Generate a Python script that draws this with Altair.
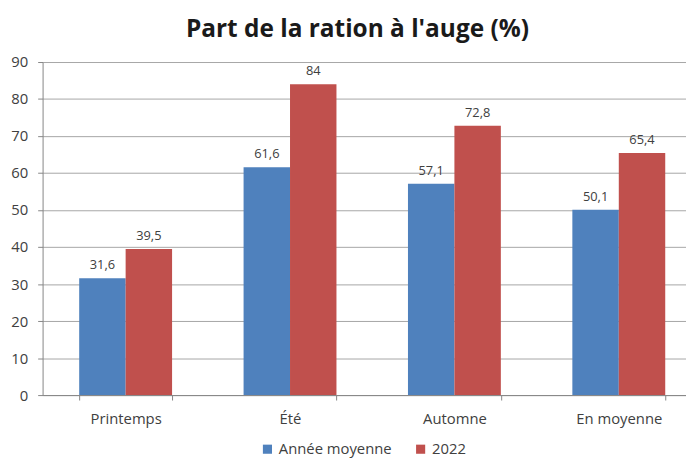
import altair as alt
import pandas as pd

categories = ["Printemps", "Été", "Automne", "En moyenne"]
series = ["Année moyenne", "2022"]
values_moyenne = [31.6, 61.6, 57.1, 50.1]
values_2022 = [39.5, 84, 72.8, 65.4]
colors = ["#4F81BD", "#C0504D"]
y_ticks = list(range(0, 91, 10))

rows = []
for s, vals in zip(series, [values_moyenne, values_2022]):
    for c, v in zip(categories, vals):
        rows.append({"cat": c, "serie": s, "val": v,
                     "label": f"{v:g}".replace(".", ",")})
df = pd.DataFrame(rows)

FONT = "Open Sans"
TXT = "#404040"

base = alt.Chart(df).encode(
    x=alt.X("cat:N", sort=categories, title=None,
            scale=alt.Scale(paddingInner=0.435, paddingOuter=0.1745, align=0.638),
            axis=alt.Axis(labelAngle=0, tickBand="extent", tickSize=5, tickColor="#868686",
                          domainColor="#868686", labelFont=FONT, labelFontSize=15,
                          labelColor=TXT, labelPadding=12, grid=False)),
    xOffset=alt.XOffset("serie:N", sort=series,
                        scale=alt.Scale(paddingInner=0, paddingOuter=0)),
    y=alt.Y("val:Q", title=None,
            scale=alt.Scale(domain=[0, 90], nice=False),
            axis=alt.Axis(values=y_ticks, tickSize=5, tickColor="#868686",
                          domainColor="#868686", gridColor="#A6A6A6",
                          labelFont=FONT, labelFontSize=15, labelColor=TXT,
                          labelPadding=10)),
)

bars = base.mark_bar().encode(
    color=alt.Color("serie:N", sort=series,
                    scale=alt.Scale(domain=series, range=colors),
                    legend=alt.Legend(orient="none", legendX=220, legendY=384,
                                      direction="horizontal", title=None,
                                      symbolType="square", symbolSize=85,
                                      symbolStrokeWidth=0, labelFont=FONT,
                                      labelFontSize=15, labelColor=TXT,
                                      columnPadding=21, labelOffset=4))
)

labels = base.mark_text(baseline="alphabetic", dy=-9, fontSize=13,
                        color=TXT, font=FONT).encode(text="label:N")

chart = alt.layer(bars, labels).properties(
    width=651, height=337,
    title=alt.TitleParams("Part de la ration à l'auge (%)", font=FONT, fontSize=24.7,
                          fontWeight="bold", color="#1a1a1a", anchor="start",
                          frame="group", dx=145, offset=14),
    padding={"left": 35, "top": 52, "right": 0, "bottom": 62},
    autosize="none",
).configure_view(stroke=None)

chart.save("out.html", embed_options={"renderer": "svg", "actions": False})
